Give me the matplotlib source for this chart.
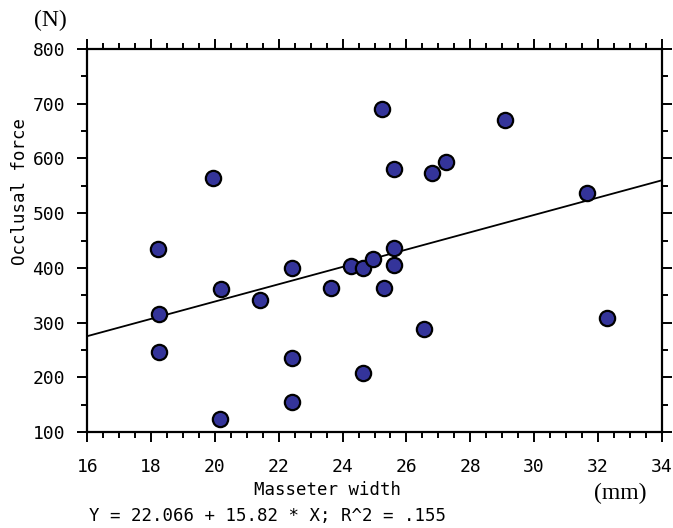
import numpy as np
import matplotlib
matplotlib.use('Agg')
import matplotlib.pyplot as plt
from matplotlib.ticker import MultipleLocator

# masseter width (mm) vs occlusal force (N)
width_mm = [18.2, 18.25, 18.25, 20.2, 20.15, 21.4, 22.4, 22.4, 22.4, 23.65,
            24.25, 24.65, 24.95, 25.6, 25.6, 25.3, 24.65, 26.55, 25.25, 25.6,
            26.8, 27.25, 29.1, 31.65, 32.3, 19.95]
force_n = [434, 316, 247, 361, 123, 342, 400, 236, 155, 364,
           404, 399, 416, 437, 405, 364, 207, 288, 690, 580,
           573, 594, 671, 536, 308, 565]
intercept, slope = 22.066, 15.82
x_range = [16, 34]
y_range = [100, 800]

W, H = 673, 528
fig = plt.figure(figsize=(W / 100, H / 100), dpi=100)
ax = fig.add_axes([87.3 / W, 1 - 432 / H, (661.7 - 87.3) / W, (432 - 49) / H])

mono = 'DejaVu Sans Mono'
serif = 'Liberation Serif'

xs = np.array(x_range, dtype=float)
ax.plot(xs, intercept + slope * xs, color='black', lw=1.3, zorder=2)
ax.plot(width_mm, force_n, 'o', ms=11, mfc='#34349a', mec='black', mew=1.6,
        zorder=3, clip_on=False)

ax.set_xlim(x_range)
ax.set_ylim(y_range)
ax.xaxis.set_major_locator(MultipleLocator(2))
ax.xaxis.set_minor_locator(MultipleLocator(0.5))
ax.yaxis.set_major_locator(MultipleLocator(100))
ax.yaxis.set_minor_locator(MultipleLocator(50))
ax.tick_params(which='both', direction='out', top=True, right=True, width=1.4,
               labeltop=False, labelright=False)
ax.tick_params(which='major', length=7)
ax.tick_params(which='minor', length=4)
ax.tick_params(axis='x', pad=12)
ax.tick_params(axis='y', pad=9)
for lab in ax.get_xticklabels() + ax.get_yticklabels():
    lab.set_fontfamily(mono)
    lab.set_fontsize(13)
for sp in ax.spines.values():
    sp.set_linewidth(1.6)

fig.text(50 / W, 1 - 20 / H, '(N)', family=serif, fontsize=17,
         ha='center', va='center')
fig.text(20 / W, 1 - 191 / H, 'Occlusal force', family=mono, fontsize=12.5,
         rotation=90, ha='center', va='center')
fig.text(328 / W, 1 - 490 / H, 'Masseter width', family=mono, fontsize=12.5,
         ha='center', va='center')
fig.text(620 / W, 1 - 493 / H, '(mm)', family=serif, fontsize=17,
         ha='center', va='center')
fig.text(89 / W, 1 - 516 / H, 'Y = 22.066 + 15.82 * X; R^2 = .155',
         family=mono, fontsize=12.5, ha='left', va='center')

fig.savefig('out.png', dpi=100)
